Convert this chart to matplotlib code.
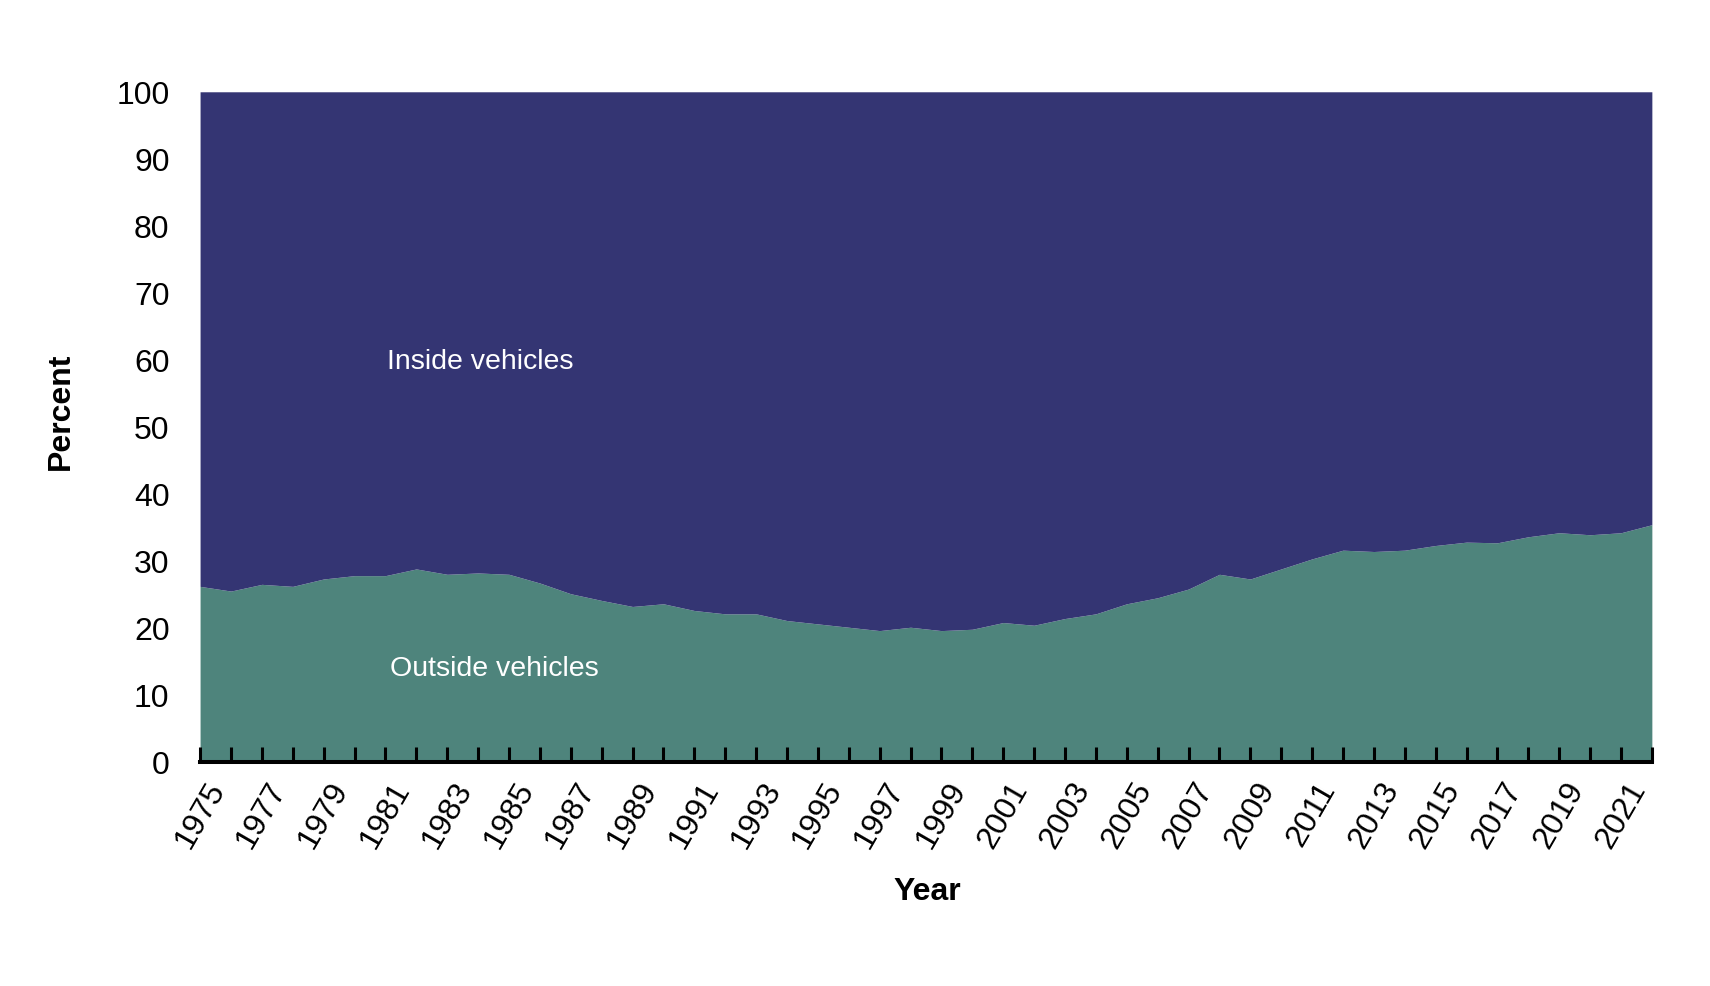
import matplotlib
matplotlib.use("Agg")
import matplotlib.pyplot as plt
import numpy as np

plt.rcParams['font.family'] = ['Liberation Sans', 'DejaVu Sans']

# share of deaths outside vehicles (percent)
years = list(range(1975, 2023))
outside = [26.2, 25.5, 26.5, 26.2, 27.3, 27.8, 27.8, 28.8, 28.0, 28.2,
           28.0, 26.7, 25.1, 24.1, 23.2, 23.6, 22.6, 22.1, 22.1, 21.1,
           20.6, 20.1, 19.6, 20.1, 19.6, 19.8, 20.8, 20.4, 21.4, 22.1,
           23.6, 24.5, 25.8, 28.0, 27.3, 28.8, 30.3, 31.6, 31.4, 31.6,
           32.3, 32.8, 32.7, 33.6, 34.2, 33.9, 34.2, 35.4]
total = [100] * len(years)
label_years = list(range(1975, 2022, 2))
y_ticks = list(range(0, 101, 10))

col_in = '#343573'
col_out = '#4e847c'

fig = plt.figure(figsize=(17.1, 9.87), dpi=100)
ax = fig.add_axes([0.117, 0.227, 0.849, 0.679])

ax.fill_between(years, 0, outside, color=col_out, lw=0)
ax.fill_between(years, outside, total, color=col_in, lw=0)

ax.set_xlim(1975, 2022)
ax.set_ylim(0, 100)

ax.set_xticks(years)
ax.set_xticklabels([str(y) if y in label_years else '' for y in years],
                   rotation=60, ha='center', va='top', fontsize=23)
ax.tick_params(axis='x', direction='in', length=11, width=2.2, color='black', pad=10)
ax.set_yticks(y_ticks)
ax.set_yticklabels([str(v) for v in y_ticks], fontsize=23)
ax.tick_params(axis='y', length=0, pad=22)

for s in ['top', 'right', 'left']:
    ax.spines[s].set_visible(False)
ax.spines['bottom'].set_linewidth(2.9)
ax.spines['bottom'].set_zorder(5)

ax.text(1981.06, 59.9, 'Inside vehicles', color='white', fontsize=20.5, va='center', ha='left')
ax.text(1981.15, 14.0, 'Outside vehicles', color='white', fontsize=20.5, va='center', ha='left')

ax.text(-0.096, 0.524, 'Percent', transform=ax.transAxes, rotation=90,
        fontsize=23, fontweight='bold', ha='center', va='center')
ax.text(0.5007, -0.193, 'Year', transform=ax.transAxes,
        fontsize=23, fontweight='bold', ha='center', va='center')

fig.savefig('out.png', dpi=100, facecolor='white')
